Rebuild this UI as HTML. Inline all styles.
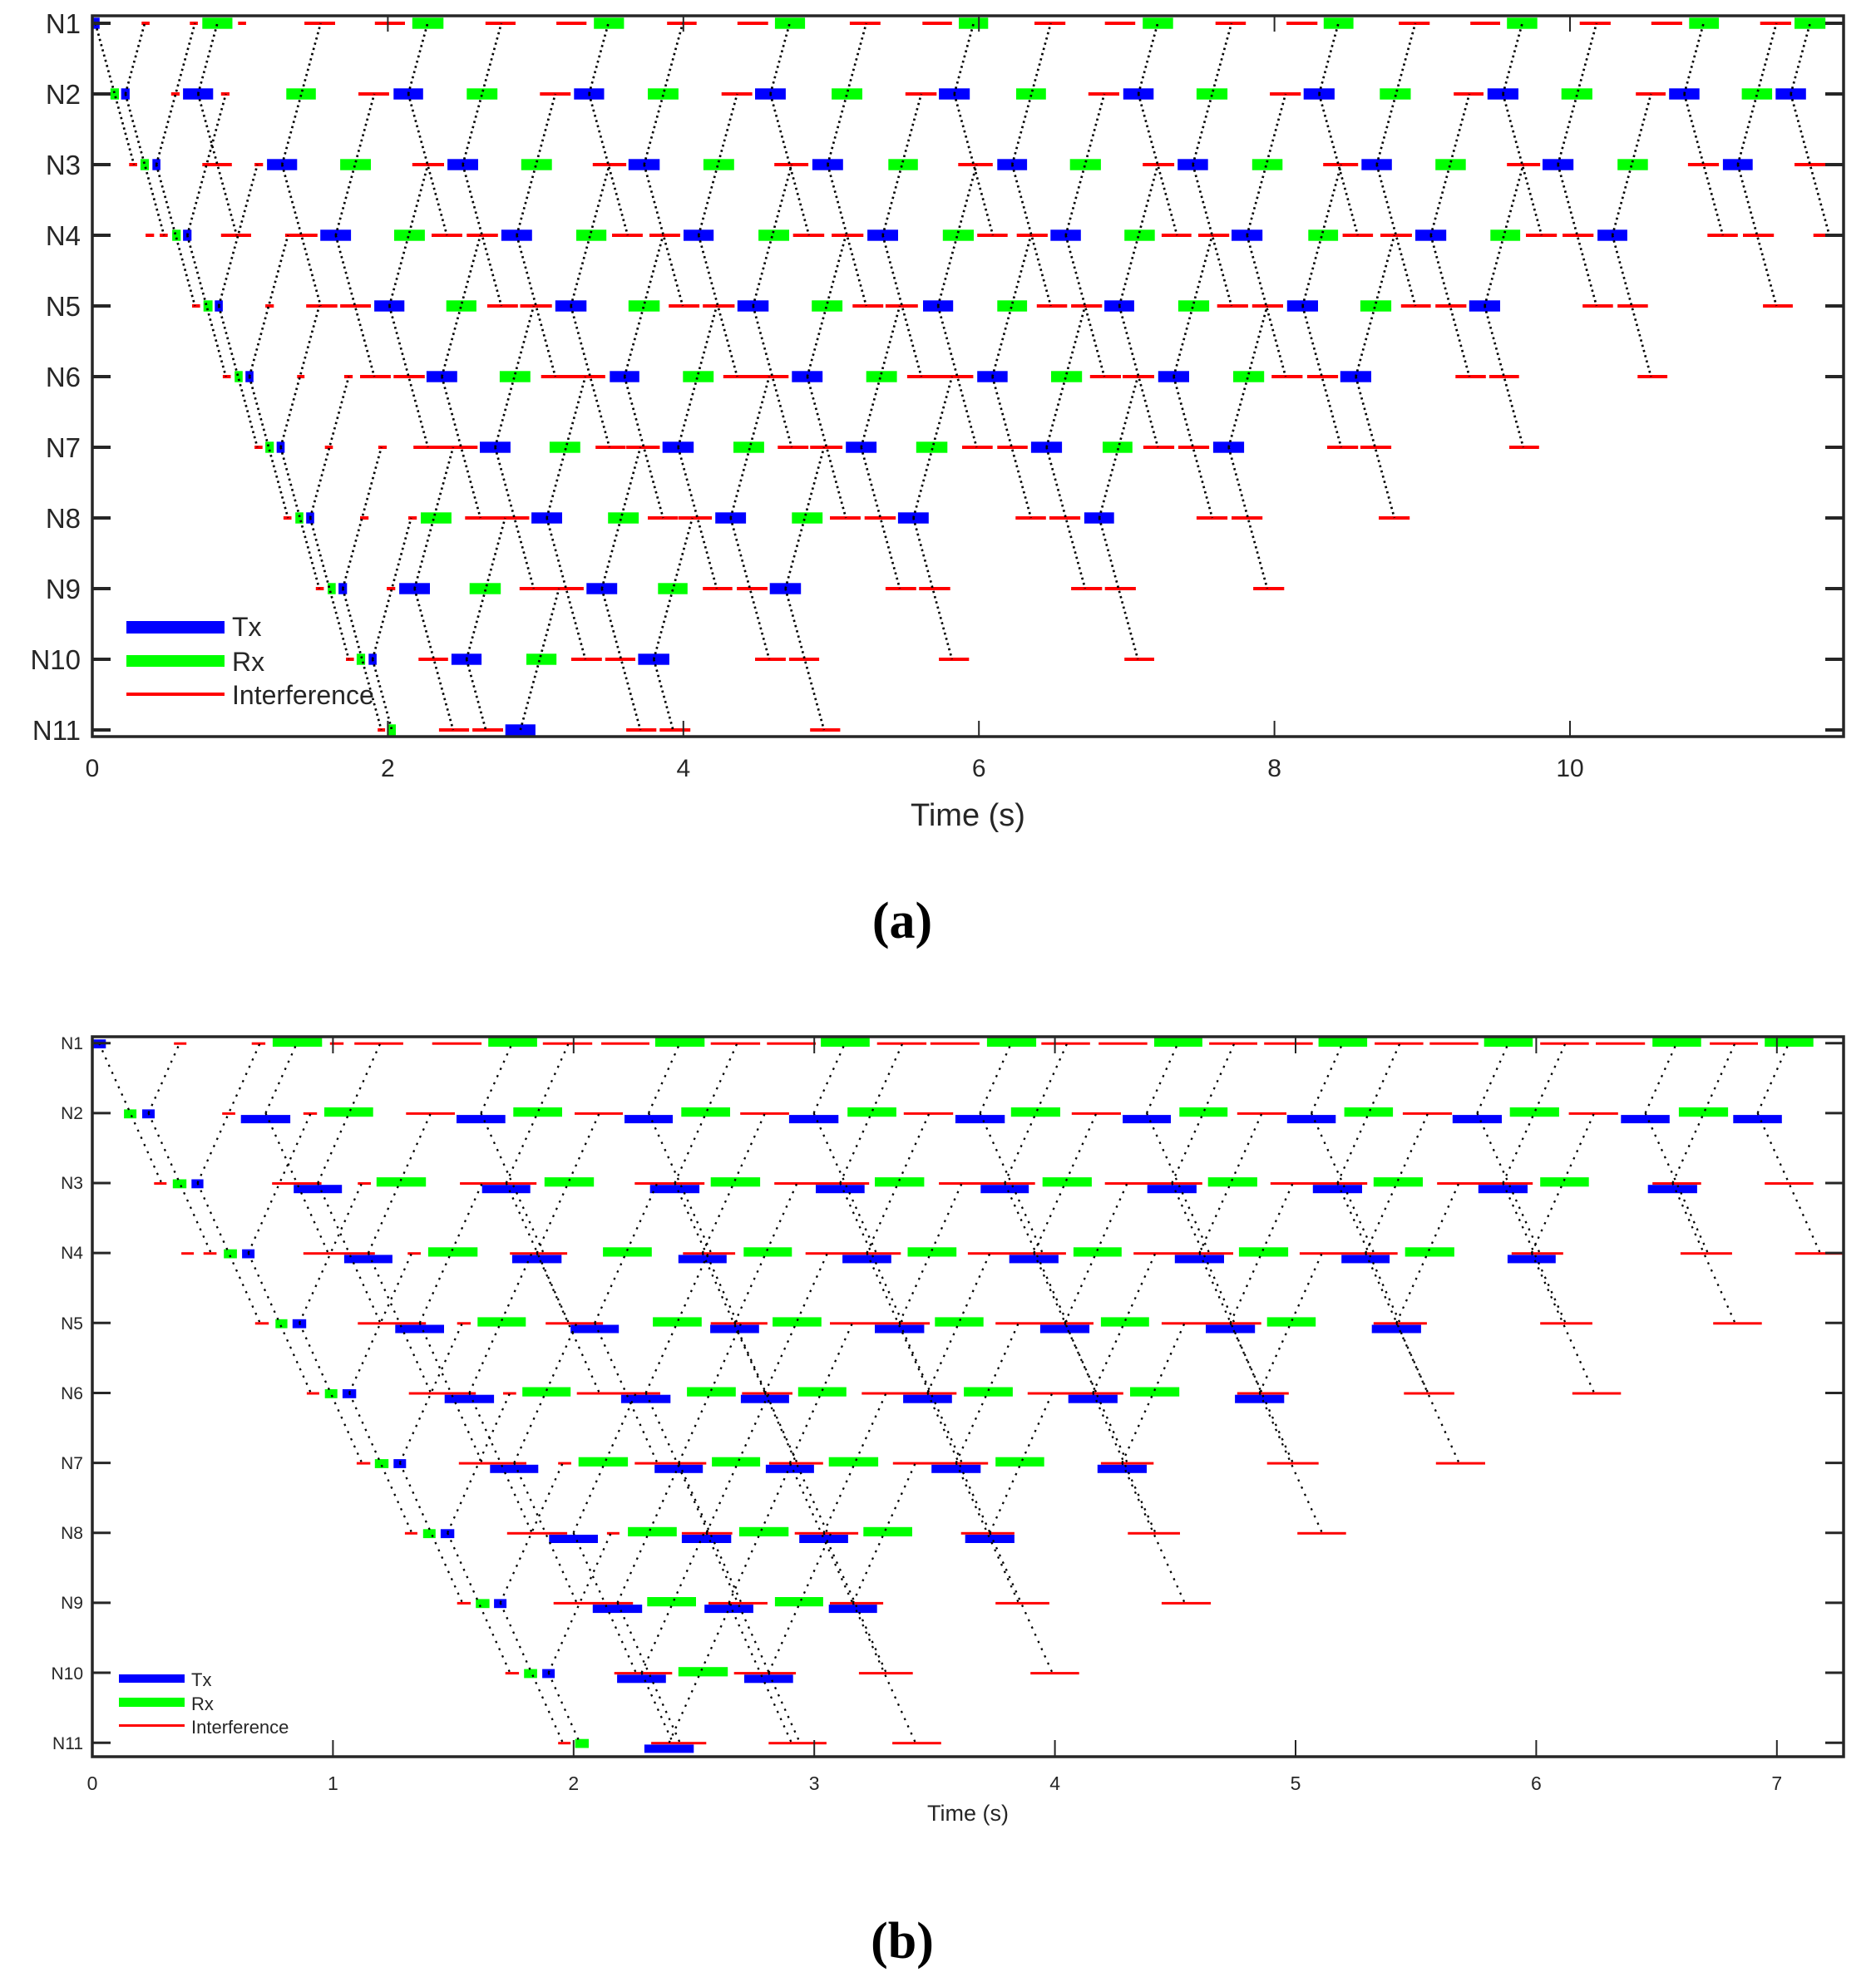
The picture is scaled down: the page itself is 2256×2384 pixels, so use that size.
<!DOCTYPE html>
<html><head><meta charset="utf-8">
<style>
html,body{margin:0;padding:0;background:#fff;}
svg{display:block;}
text{font-family:"Liberation Sans",Arial,sans-serif;fill:#262626;}
.cap{font-family:"Liberation Serif",serif;font-weight:bold;fill:#000;}
</style></head>
<body>
<svg id="s" xmlns="http://www.w3.org/2000/svg" width="2256" height="2384" viewBox="0 0 2256 2384">
<rect width="2256" height="2384" fill="#fff"/>
<g id="bars"></g>
<g id="lines"></g>
<g id="axes" stroke="#262626" fill="none">
  <rect x="111" y="19" width="2106" height="867" stroke-width="3.5"/>
  <rect x="111" y="1247" width="2106" height="866" stroke-width="3.5"/>
</g>
<g id="ticks" stroke="#262626"></g>
<g font-size="33" text-anchor="end">
<text x="97" y="40">N1</text><text x="97" y="125">N2</text><text x="97" y="210">N3</text>
<text x="97" y="295">N4</text><text x="97" y="380">N5</text><text x="97" y="465">N6</text>
<text x="97" y="550">N7</text><text x="97" y="635">N8</text><text x="97" y="720">N9</text>
<text x="97" y="805">N10</text><text x="97" y="890">N11</text>
</g>
<g font-size="30" text-anchor="middle">
<text x="111" y="934">0</text><text x="466.4" y="934">2</text><text x="821.8" y="934">4</text>
<text x="1177.2" y="934">6</text><text x="1532.6" y="934">8</text><text x="1888" y="934">10</text>
</g>
<text x="1164" y="993" font-size="38" text-anchor="middle">Time (s)</text>
<text class="cap" x="1085" y="1128" font-size="62" text-anchor="middle">(a)</text>
<rect x="152" y="747" width="118" height="15" fill="#0000ff"/>
<rect x="152" y="788" width="118" height="14" fill="#00ff00"/>
<rect x="152" y="833" width="118" height="4" fill="#ff0000"/>
<g font-size="32"><text x="279" y="765">Tx</text><text x="279" y="807">Rx</text><text x="279" y="847">Interference</text></g>
<g font-size="21" text-anchor="end">
<text x="100" y="1262">N1</text><text x="100" y="1346">N2</text><text x="100" y="1430">N3</text>
<text x="100" y="1514">N4</text><text x="100" y="1599">N5</text><text x="100" y="1683">N6</text>
<text x="100" y="1767">N7</text><text x="100" y="1851">N8</text><text x="100" y="1935">N9</text>
<text x="100" y="2020">N10</text><text x="100" y="2104">N11</text>
</g>
<g font-size="23" text-anchor="middle">
<text x="111" y="2153">0</text><text x="400.4" y="2153">1</text><text x="689.8" y="2153">2</text>
<text x="979.2" y="2153">3</text><text x="1268.6" y="2153">4</text><text x="1558" y="2153">5</text>
<text x="1847.4" y="2153">6</text><text x="2136.8" y="2153">7</text>
</g>
<text x="1164" y="2190" font-size="27" text-anchor="middle">Time (s)</text>
<text class="cap" x="1085" y="2355" font-size="62" text-anchor="middle">(b)</text>
<rect x="143" y="2014" width="79" height="10" fill="#0000ff"/>
<rect x="143" y="2042" width="79" height="11" fill="#00ff00"/>
<rect x="143" y="2074" width="79" height="3" fill="#ff0000"/>
<g font-size="22"><text x="230" y="2028">Tx</text><text x="230" y="2057">Rx</text><text x="230" y="2085">Interference</text></g>
</svg>
<script>
(function(){
var NS="http://www.w3.org/2000/svg";
function el(p,t,a){var e=document.createElementNS(NS,t);for(var k in a)e.setAttribute(k,a[k]);p.appendChild(e);return e;}
var bars=document.getElementById('bars'),lines=document.getElementById('lines'),ticks=document.getElementById('ticks');
var A={
 L:["B14-29 R103-117 R188-202 G210-263 R273-287 R390-444 R514-567 G580-635 R709-762 R834-887 G900-953 R1029-1081 R1153-1207 G1219-1272 R1351-1405 R1479-1531 G1543-1568",
"G48-63 B67-82 R155-170 B176-229 R243-258 G358-410 R485-539 B547-599 G676-730 R805-859 B865-918 G995-1049 R1125-1179 B1184-1238 G1319-1373 R1449-1504 B1508-1562",
"R81-95 G101-116 B122-136 R210-262 R302-317 B324-377 G453-507 R580-636 B642-696 G772-826 R898-957 B961-1016 G1093-1147 R1218-1278 B1285-1339 G1419-1471 R1542-1568",
"R110-125 R135-149 G157-172 B176-191 R243-296 R356-413 B418-472 G548-602 R614-668 R676-731 B737-791 G869-922 R932-986 R998-1052 B1058-1111 G1190-1244 R1251-1306 R1319-1375 B1382-1436 G1515-1568",
"R192-206 G212-228 B232-246 R321-336 R393-448 R453-507 B513-566 G640-693 R712-766 R770-826 B832-887 G961-1016 R1032-1086 R1092-1148 B1153-1208 G1284-1338 R1356-1410 R1414-1471 B1480-1533",
"R246-260 G267-281 B286-300 R377-390 R460-475 R488-542 R547-602 B605-659 G734-788 R807-920 B928-980 G1057-1111 R1128-1243 B1249-1303 G1380-1434 R1452-1568",
"R302-316 G321-336 B341-355 R426-440 R520-535 R582-695 B699-753 G822-876 R903-956 R957-1016 B1021-1076 G1146-1200 R1224-1278 R1281-1338 B1344-1398 G1468-1523 R1549-1568",
"R353-367 G374-388 B393-407 R488-503 R573-588 G595-649 R673-786 B790-844 G925-979 R995-1048 R1049-1108 B1114-1168 G1249-1303 R1316-1370 R1377-1432 B1436-1490",
"R410-424 G431-445 B450-465 R535-550 B557-611 G681-736 R769-882 B887-941 G1013-1065 R1092-1144 R1152-1206 B1210-1265 R1414-1468 R1473-1528",
"R463-477 G482-497 B503-517 R591-643 B649-702 G781-834 R860-914 R920-973 B978-1033 R1184-1238 R1244-1297 R1508-1561",
"R519-532 G538-551 R627-680 R686-740 B744-797 R957-1010 R1016-1070 R1281-1334"],
 R:["G0-41 R122-176 R245-298 G311-364 R438-491 R562-616 G627-679 R758-812 R883-935 G947-1000 R1074-1128 R1199-1253 G1265-1317 R1389-1443 G1449-1503",
"B0-9 G90-142 R216-270 B277-330 G405-459 R533-587 B592-646 G725-779 R854-906 B913-967 G1042-1096 R1172-1224 B1230-1283 G1357-1410 B1416-1469",
"R0-49 B57-109 G184-238 R311-366 B372-425 G502-555 R626-687 B693-746 G822-875 R947-1005 B1009-1063 G1140-1193 R1263-1317 B1324-1376 R1449-1503",
"G0-16 R22-75 R91-145 B150-203 G279-332 R344-396 R408-462 B466-520 G600-652 R660-713 R726-781 B787-841 G918-970 R980-1034 R1044-1098 B1105-1157 R1297-1350 R1359-1413 R1482-1535",
"G57-109 R126-179 R186-240 B244-296 G373-427 R441-495 R502-556 B563-617 G691-745 R762-814 R822-876 B881-935 R1079-1132 R1140-1193 R1394-1446",
"R0-15 B22-75 G151-205 R219-273 R276-331 B338-392 G469-523 R536-590 R598-652 B656-710 R857-910 R916-968 R1175-1227",
"R0-49 R57-110 B116-170 G241-293 R312-366 R373-427 B434-488 R633-687 R691-745 R951-1003",
"R89-142 R148-202 B209-261 R405-459 R466-520 R723-777",
"R186-240 R245-299 R504-558",
"R0-7 R279-331",""]
};
var B={
 L:["B16-40 R160-182 R297-321 G334-421 R435-459 R478-564 R615-702 G714-800 R810-897 R913-998 G1008-1095 R1106-1193 R1205-1291 G1300-1386 R1399-1486 R1493-1568",
"G72-94 B104-126 R245-268 B278-365 R388-412 G425-511 R569-655 B658-744 G758-844 R866-951 B954-1039 G1054-1140 R1158-1244 B1244-1331 G1347-1433 R1446-1533 B1537-1568",
"R125-147 G158-182 B191-212 R333-420 B371-456 R484-507 G517-604 R664-799 B703-788 G813-900 R972-1095 B999-1086 G1106-1193 R1218-1385 B1291-1377 G1395-1482 R1508-1568",
"R173-195 R212-235 G248-271 B280-302 R388-514 B460-545 R572-595 G608-695 R752-853 B756-843 G916-1002 R1057-1149 B1049-1134 G1164-1249 R1273-1441 B1338-1424 G1453-1539 R1559-1568",
"R303-327 G339-360 B369-393 R484-604 B550-636 R659-683 G695-780 R815-916 B859-944 G1004-1090 R1106-1206 B1105-1191 G1215-1301 R1316-1492 B1395-1482 G1501-1568",
"R394-416 G426-448 B457-481 R574-692 B637-724 R740-763 G774-859 R870-1017 B948-1035 G1064-1150 R1161-1250 B1159-1244 G1260-1345 R1372-1539 B1445-1531 G1552-1568",
"R482-506 G514-538 B547-569 R662-781 B717-802 R837-860 G873-960 R972-1098 B1007-1092 G1108-1193 R1209-1304 B1203-1288 G1314-1401 R1427-1568 B1495-1568",
"R567-589 G599-621 B630-654 R747-853 B821-907 R923-945 G960-1046 R1055-1144 B1055-1142 G1156-1243 R1254-1366 B1262-1348 G1375-1461 R1547-1568 B1555-1568",
"R659-683 G692-716 B724-746 R829-969 B898-985 G994-1080 R1102-1206 B1095-1181 G1219-1304 R1316-1410 B1314-1399",
"R744-768 G777-800 B809-831 R936-1038 B941-1027 G1049-1136 R1147-1256 B1165-1251 R1367-1462",
"R837-859 G867-891 R1001-1098 B989-1076 R1208-1310 R1426-1512"],
 R:["R0-26 G39-125 R134-219 R234-319 G331-415 R427-511 R523-608 G618-703 R716-801 R812-897 G907-992 R1005-1090 R1102-1188 G1201-1286 R1301-1385 G1397-1482",
"B0-70 G81-167 R187-273 B276-360 G375-459 R476-562 B563-648 G663-748 R765-851 B852-938 G952-1038 R1055-1141 B1146-1231 G1247-1333 B1342-1427",
"R0-123 B28-112 G136-222 R245-415 B319-405 G425-511 R534-703 B608-694 G714-800 R825-992 B897-983 G1005-1090 R1201-1286 B1193-1279 R1397-1482",
"R6-177 B78-164 G190-274 R295-469 B367-453 G479-565 R585-756 B658-742 G769-855 R955-1045 B948-1032 R1250-1340 R1450-1535",
"G0-33 R54-225 B132-218 G238-322 R344-518 B421-507 G528-613 R714-807 B711-797 R1005-1096 R1307-1392",
"G0-84 R110-277 B181-267 G289-375 R476-566 B472-558 R767-855 R1061-1146",
"R0-41 B0-28 G54-139 R238-330 B232-318 R528-618 R823-909",
"R0-87 B1-87 R285-376 R581-666",
"R54-148 R344-430","R115-200",""]
};
function parse(data){
 var rows=[];
 for(var i=0;i<11;i++){
  var segs={B:[],G:[],R:[]};
  [[data.L[i],100,1.4654],[data.R[i],1160,1.4519]].forEach(function(src){
   if(!src[0])return;
   src[0].split(/\s+/).forEach(function(t){
    var m=t.match(/^([BGR])(\d+)-(\d+)$/);if(!m)return;
    segs[m[1]].push([src[1]+(+m[2])/src[2],src[1]+(+m[3])/src[2]]);
   });
  });
  for(var k in segs){
   var a=segs[k].sort(function(p,q){return p[0]-q[0];}),out=[];
   a.forEach(function(s){
    if(out.length&&s[0]<=out[out.length-1][1]+0.3){out[out.length-1][1]=Math.max(out[out.length-1][1],s[1]);}
    else out.push([s[0],s[1]]);
   });
   segs[k]=out;
  }
  rows.push(segs);
 }
 return rows;
}
var col={B:"#0000ff",G:"#00ff00",R:"#ff0000"};
function draw(rows,y0,dy,d,isB,dash,sw){
 for(var i=0;i<11;i++){
  var y=y0+dy*i,s=rows[i];
  ["B","G","R"].forEach(function(k){
   s[k].forEach(function(g){
    var w=g[1]-g[0],top,h;
    if(!isB){ if(k=="R"){top=y-2;h=4;} else {top=y-6.7;h=13.4;} }
    else{
     if(k=="R"){top=y-1;h=3;}
     else if(w<25){top=y-4.5;h=10.8;}
     else if(k=="G"){top=y-6.9;h=11.2;}
     else {top=y+2.2;h=10;}
    }
    el(bars,"rect",{x:g[0].toFixed(1),y:top.toFixed(1),width:w.toFixed(1),height:h,fill:col[k]});
   });
  });
  s.B.forEach(function(g){
   var c=(g[0]+g[1])/2;
   [-1,1].forEach(function(dir){
    var n=i+2*dir,steps=2;
    if(n<0||n>10){n=i+dir;steps=1;}
    if(n<0||n>10)return;
    el(lines,"line",{x1:c.toFixed(1),y1:y,x2:(c+d*steps).toFixed(1),y2:y0+dy*n,stroke:"#000","stroke-width":sw,"stroke-dasharray":dash});
   });
  });
 }
}
draw(parse(A),28,85,23.2,false,"2.5 4",2.7);
draw(parse(B),1254.7,84.15,37.6,true,"2.5 7",2.3);
function tk(x1,y1,x2,y2,w){el(ticks,"line",{x1:x1,y1:y1,x2:x2,y2:y2,"stroke-width":w});}
for(var t=0;t<=10;t+=2){var x=111+177.7*t;tk(x,886,x,867,2);tk(x,19,x,38,2);}
for(var t=0;t<=7;t++){var x=111+289.4*t;tk(x,2113,x,2093,2);tk(x,1247,x,1267,2);}
for(var i=0;i<11;i++){var y=28+85*i;tk(111,y,133,y,4);tk(2195,y,2217,y,4);
 var y2=1254.7+84.15*i;tk(111,y2,133,y2,3);tk(2195,y2,2217,y2,3);}
})();
</script>
</body></html>
